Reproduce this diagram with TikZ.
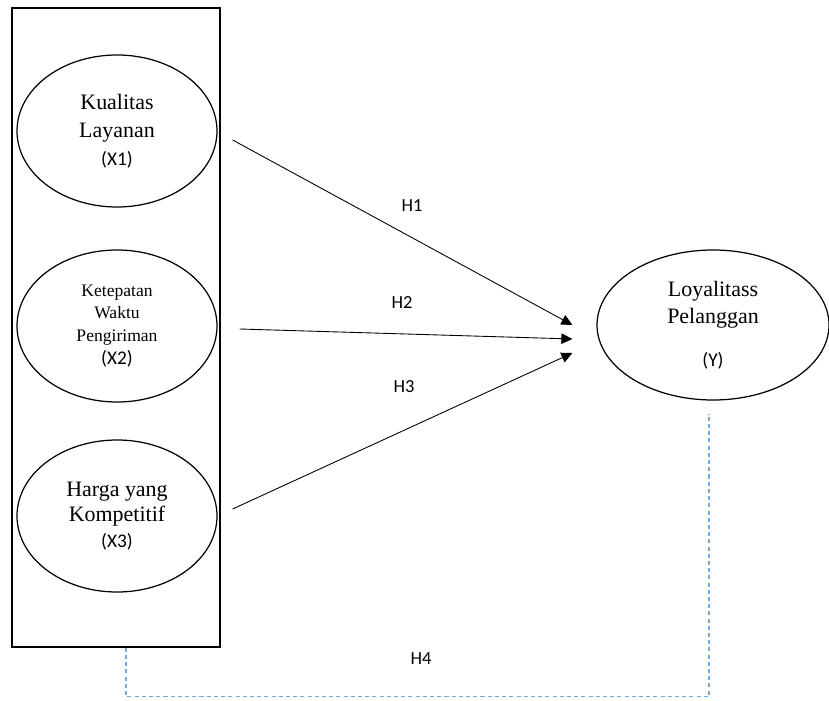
\documentclass[tikz,border=0pt]{standalone}
\usepackage{fontspec}
\setmainfont{Liberation Serif}
\newfontfamily\hfont{Carlito}
\usepackage{xcolor}
\usetikzlibrary{shapes.geometric, arrows, arrows.meta, positioning}
\definecolor{dashblue}{RGB}{115,168,220}
\tikzstyle{arrow} = [line width=0.5pt,-{Triangle[length=2.2mm,width=2.1mm]}]

\begin{document}
\begin{tikzpicture}
    \tikzstyle{var} = [ellipse, draw, line width=0.7pt, minimum width=4cm, minimum height=3.04cm, inner sep=0pt, align=center]
    \tikzstyle{hyp} = [font=\hfont\fontsize{10.5}{12}\selectfont]
    \tikzstyle{hline} = [dashblue, line width=0.7pt, dash pattern=on 2.3pt off 1.8pt]
    \useasboundingbox (0,0) rectangle (16.58,14);

    \node[draw, line width=0.8pt, minimum width=4.16cm, minimum height=12.78cm] (box) at (2.32,7.45) {};
    \node[var, font=\fontsize{12.5}{16}\selectfont] (x1) at (2.34,11.38) {Kualitas\\Layanan\\{\hfont\fontsize{11}{16}\selectfont (X1)}};
    \node[var, font=\fontsize{10}{13}\selectfont] (x2) at (2.34,7.48) {Ketepatan\\Waktu\\Pengiriman\\{\hfont\fontsize{11}{13}\selectfont (X2)}};
    \node[var, font=\fontsize{12.5}{14.5}\selectfont] (x3) at (2.34,3.68) {Harga yang\\Kompetitif\\{\hfont\fontsize{11}{14.5}\selectfont (X3)}};
    \node[var, minimum width=4.64cm, minimum height=3cm, font=\fontsize{12.5}{15.5}\selectfont] (y) at (14.26,7.5) {Loyalitass\\Pelanggan\\[0.3cm]{\hfont\fontsize{11}{15.5}\selectfont (Y)}};

    \node[hyp] (h1) at (8.24,9.88) {H1};
    \node[hyp] (h2) at (8.04,7.94) {H2};
    \node[hyp] (h3) at (8.08,6.26) {H3};
    \node[hyp] (h4) at (8.42,0.82) {H4};

    \draw[arrow] ([xshift=0.3cm, yshift=-0.18cm]x1.east) -- ([xshift=-0.48cm]y.west);
    \draw[arrow] ([xshift=0.44cm, yshift=-0.06cm]x2.east) -- ([xshift=-0.48cm, yshift=-0.28cm]y.west);
    \draw[arrow] ([xshift=0.3cm, yshift=0.14cm]x3.east) -- ([xshift=-0.48cm, yshift=-0.56cm]y.west);
    \draw[hline] ([xshift=0.2cm]box.south) -- ++(0,-0.98) -| ([xshift=-0.08cm, yshift=-0.26cm]y.south);
\end{tikzpicture}
\end{document}
